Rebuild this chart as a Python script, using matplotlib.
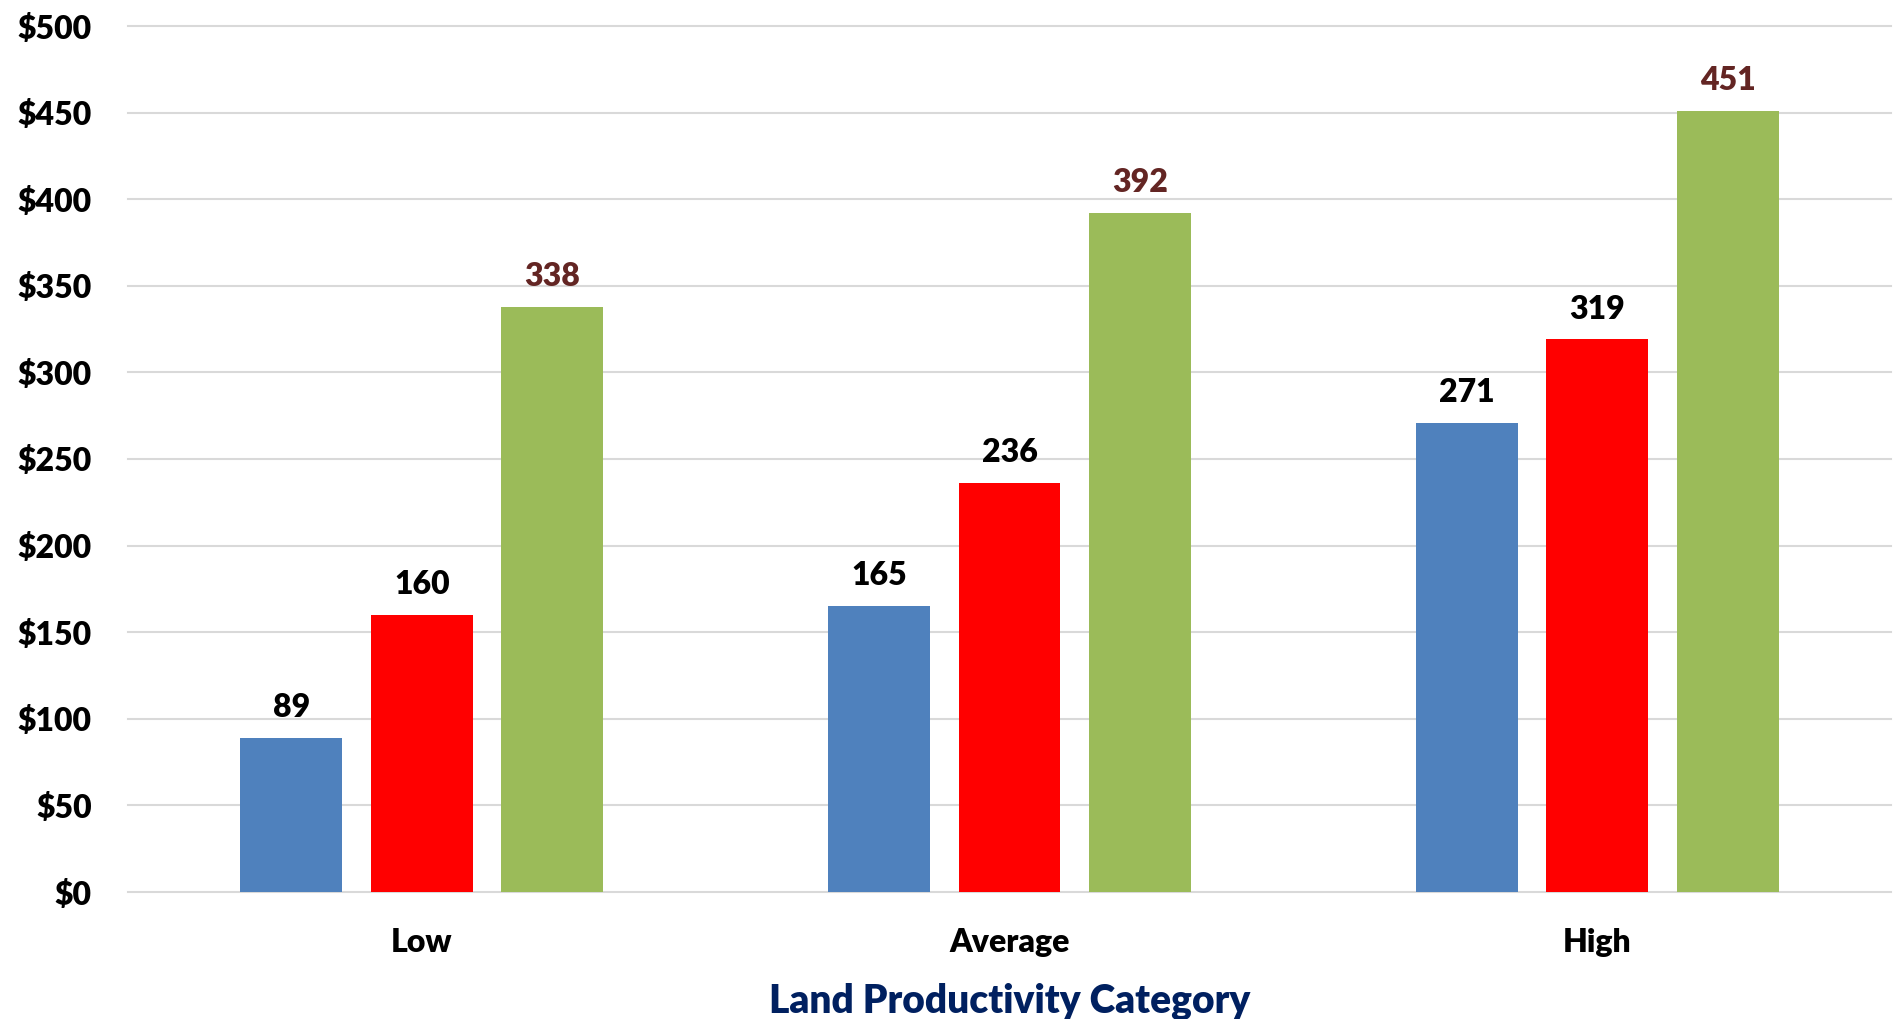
import matplotlib
matplotlib.use("Agg")
import matplotlib.pyplot as plt
import numpy as np

categories = ["Low", "Average", "High"]
series_a = [89, 165, 271]
series_b = [160, 236, 319]
series_c = [338, 392, 451]
y_ticks = [0, 50, 100, 150, 200, 250, 300, 350, 400, 450, 500]
x_title = "Land Productivity Category"

colors = ["#4F81BD", "#FF0000", "#9BBB59"]
label_colors = ["#000000", "#000000", "#632523"]

plt.rcParams['font.family'] = ['Lato', 'DejaVu Sans']
WEIGHT = "heavy"

fig = plt.figure(figsize=(18.95, 10.19), dpi=100)
W, H = 1895, 1019
ax = fig.add_axes([128 / W, 1 - 892 / H, (1891 - 128) / W, (892 - 26) / H])

x = np.arange(len(categories))
width = 102 / 588
offset = 130.5 / 588
for i, (vals, c, lc) in enumerate(zip([series_a, series_b, series_c], colors, label_colors)):
    bars = ax.bar(x + (i - 1) * offset, vals, width=width, color=c, zorder=3)
    for b, v in zip(bars, vals):
        ax.annotate(f"{v}", (b.get_x() + b.get_width() / 2, v), xytext=(0, 15),
                    textcoords="offset points", ha="center", va="baseline",
                    fontsize=23, fontweight=WEIGHT, color=lc)

ax.set_xlim(-0.5, 2.5)
ax.set_ylim(0, 500)
ax.set_yticks(y_ticks)
ax.set_yticklabels([f"${t}" for t in y_ticks], fontsize=23, fontweight=WEIGHT)
ax.set_xticks(x)
ax.set_xticklabels(categories, fontsize=23, fontweight=WEIGHT)
for lab in ax.get_xticklabels():
    lab.set_va("baseline")
ax.tick_params(axis="x", length=0, pad=43)
ax.tick_params(axis="y", length=0, pad=26)

ax.grid(axis="y", color="#D9D9D9", linewidth=1.5, zorder=0)
ax.set_axisbelow(True)
for s in ax.spines.values():
    s.set_visible(False)
for gl in ax.get_ygridlines():
    gl.set_clip_on(False)

ax.text(0.5, -0.1386, x_title, transform=ax.transAxes, ha="center", va="baseline",
        fontsize=28, fontweight=WEIGHT, color="#002060")

fig.savefig("out.png", dpi=100, facecolor="white")
